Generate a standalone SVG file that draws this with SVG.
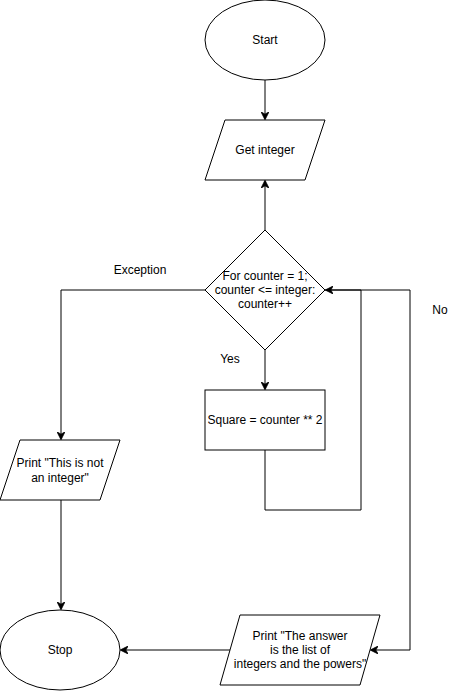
<svg xmlns="http://www.w3.org/2000/svg" width="456" height="691" viewBox="0 0 456 691">
<defs>
<style>
.s{fill:#fff;stroke:#000;stroke-width:1}
.e{fill:none;stroke:#000;stroke-width:1}
text{font-family:"Liberation Sans",Arial,Helvetica,sans-serif;font-size:12px;fill:#000;text-anchor:middle}
</style>
<marker id="a" viewBox="0 0 10 10" refX="9" refY="5" markerWidth="8" markerHeight="8" markerUnits="userSpaceOnUse" orient="auto">
<path d="M0,0 L10,5 L0,10 L3,5 Z" fill="#000" stroke="#000" stroke-width="1"/>
</marker>
</defs>
<rect width="456" height="691" fill="#fff"/>
<g id="connectors">
<path class="e" d="M265,80 V119" marker-end="url(#a)"/>
<path class="e" d="M265,230 V181" marker-end="url(#a)"/>
<path class="e" d="M265,350 V389" marker-end="url(#a)"/>
<path class="e" d="M265,450 V510 H361 V290 H326" marker-end="url(#a)"/>
<path class="e" d="M325,290 H410 V650 H371" marker-end="url(#a)"/>
<path class="e" d="M205,290 H61 V439" marker-end="url(#a)"/>
<path class="e" d="M61,500 V609" marker-end="url(#a)"/>
<path class="e" d="M230,650 H121" marker-end="url(#a)"/>
<text x="140" y="274">Exception</text>
<text x="230" y="363">Yes</text>
<text x="440" y="314">No</text>
</g>
<g id="start">
<ellipse class="s" cx="265" cy="40" rx="60" ry="40"/>
<text x="265" y="44">Start</text>
</g>
<g id="get-integer">
<path class="s" d="M225,120 H325 L305,180 H205 Z"/>
<text x="265" y="154">Get integer</text>
</g>
<g id="loop">
<path class="s" d="M265,230 L325,290 L265,350 L205,290 Z"/>
<text x="265" y="280">For counter = 1;</text>
<text x="265" y="294">counter &lt;= integer:</text>
<text x="265" y="308">counter++</text>
</g>
<g id="square">
<rect class="s" x="205" y="390" width="120" height="60"/>
<text x="265" y="424">Square = counter ** 2</text>
</g>
<g id="not-integer">
<path class="s" d="M20,440 H120 L100,500 H0 Z"/>
<text x="60" y="467">Print "This is not</text>
<text x="60" y="482">an integer"</text>
</g>
<g id="stop">
<ellipse class="s" cx="60" cy="650" rx="60" ry="40"/>
<text x="60" y="654">Stop</text>
</g>
<g id="answer">
<path class="s" d="M240,615 H380 L360,685 H220 Z"/>
<text x="300" y="640">Print "The answer</text>
<text x="300" y="654">is the list of</text>
<text x="300" y="668">integers and the powers"</text>
</g>
</svg>
